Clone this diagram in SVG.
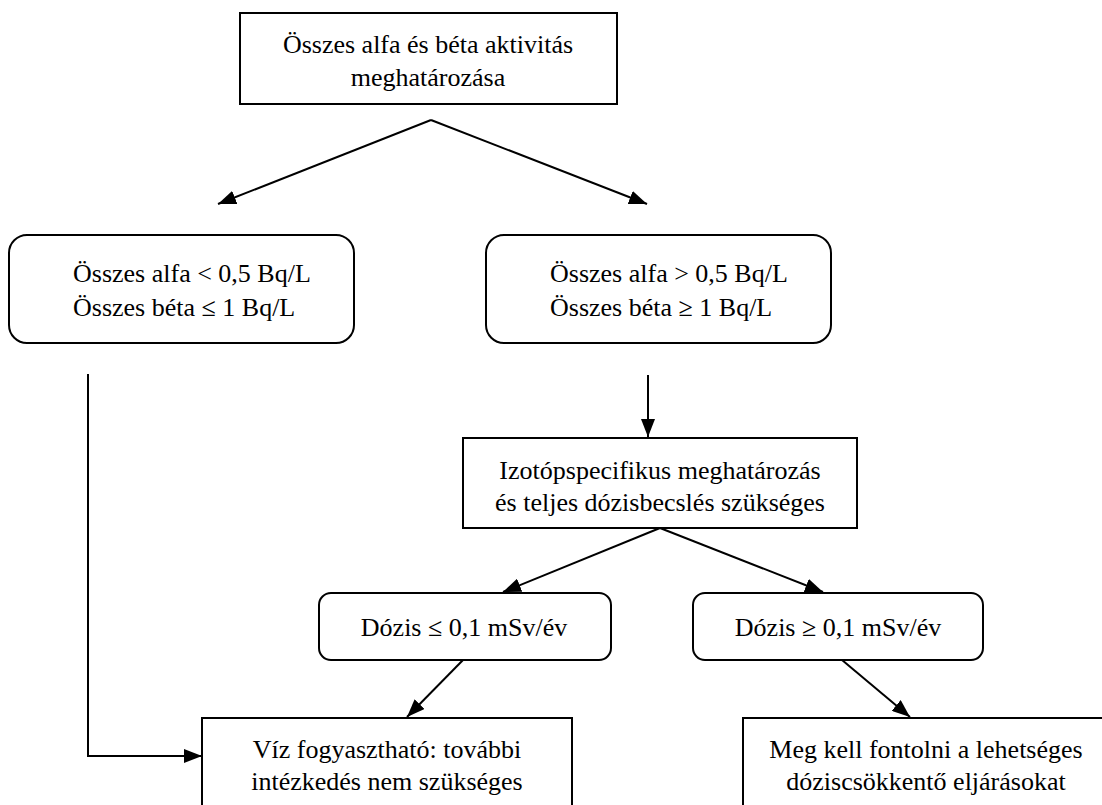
<svg xmlns="http://www.w3.org/2000/svg" width="1102" height="805" viewBox="0 0 1102 805">
<defs>
<marker id="arr" viewBox="0 0 18 14" refX="18" refY="7" markerWidth="18" markerHeight="14" markerUnits="userSpaceOnUse" orient="auto">
<path d="M0,0 L18,7 L0,14 Z" fill="#000"/>
</marker>
<style>
.box{fill:#fff;stroke:#000;stroke-width:2}
.t{font-family:"Liberation Serif","Times New Roman",serif;font-size:26px;fill:#000}
.c{text-anchor:middle}
.ln{fill:none;stroke:#000;stroke-width:2;marker-end:url(#arr)}
</style>
</defs>
<rect width="1102" height="805" fill="#fff"/>
<g id="connectors">
<line class="ln" x1="431" y1="120" x2="218" y2="204"/>
<line class="ln" x1="431" y1="120" x2="647" y2="204"/>
<polyline class="ln" points="88,374 88,756 202,756"/>
<line class="ln" x1="648" y1="375" x2="648" y2="437"/>
<line class="ln" x1="660" y1="528" x2="503" y2="592"/>
<line class="ln" x1="660" y1="528" x2="823" y2="592"/>
<line class="ln" x1="463" y1="660" x2="407" y2="717"/>
<line class="ln" x1="842" y1="660" x2="910" y2="717"/>
</g>
<g id="n1">
<rect class="box" x="240" y="13" width="377" height="91"/>
<text class="t c" x="428" y="53">Összes alfa és béta aktivitás</text>
<text class="t c" x="428" y="86">meghatározása</text>
</g>
<g id="n2">
<rect class="box" x="9" y="235" width="345" height="108" rx="18"/>
<text class="t" x="73" y="282">Összes alfa &lt; 0,5 Bq/L</text>
<text class="t" x="73" y="316">Összes béta ≤ 1 Bq/L</text>
</g>
<g id="n3">
<rect class="box" x="486" y="235" width="345" height="108" rx="18"/>
<text class="t" x="550" y="282">Összes alfa &gt; 0,5 Bq/L</text>
<text class="t" x="550" y="316">Összes béta ≥ 1 Bq/L</text>
</g>
<g id="n4">
<rect class="box" x="463" y="438" width="394" height="90"/>
<text class="t c" x="660" y="479">Izotópspecifikus meghatározás</text>
<text class="t c" x="660" y="511">és teljes dózisbecslés szükséges</text>
</g>
<g id="n5">
<rect class="box" x="319" y="593" width="292" height="67" rx="12"/>
<text class="t c" x="464" y="636">Dózis ≤ 0,1 mSv/év</text>
</g>
<g id="n6">
<rect class="box" x="693" y="593" width="290" height="67" rx="12"/>
<text class="t c" x="838" y="636">Dózis ≥ 0,1 mSv/év</text>
</g>
<g id="n7">
<rect class="box" x="202" y="718" width="370" height="100"/>
<text class="t c" x="387" y="758">Víz fogyasztható: további</text>
<text class="t c" x="387" y="790">intézkedés nem szükséges</text>
</g>
<g id="n8">
<rect class="box" x="743" y="718" width="370" height="100"/>
<text class="t c" x="926" y="758">Meg kell fontolni a lehetséges</text>
<text class="t c" x="926" y="790">dóziscsökkentő eljárásokat</text>
</g>
</svg>
